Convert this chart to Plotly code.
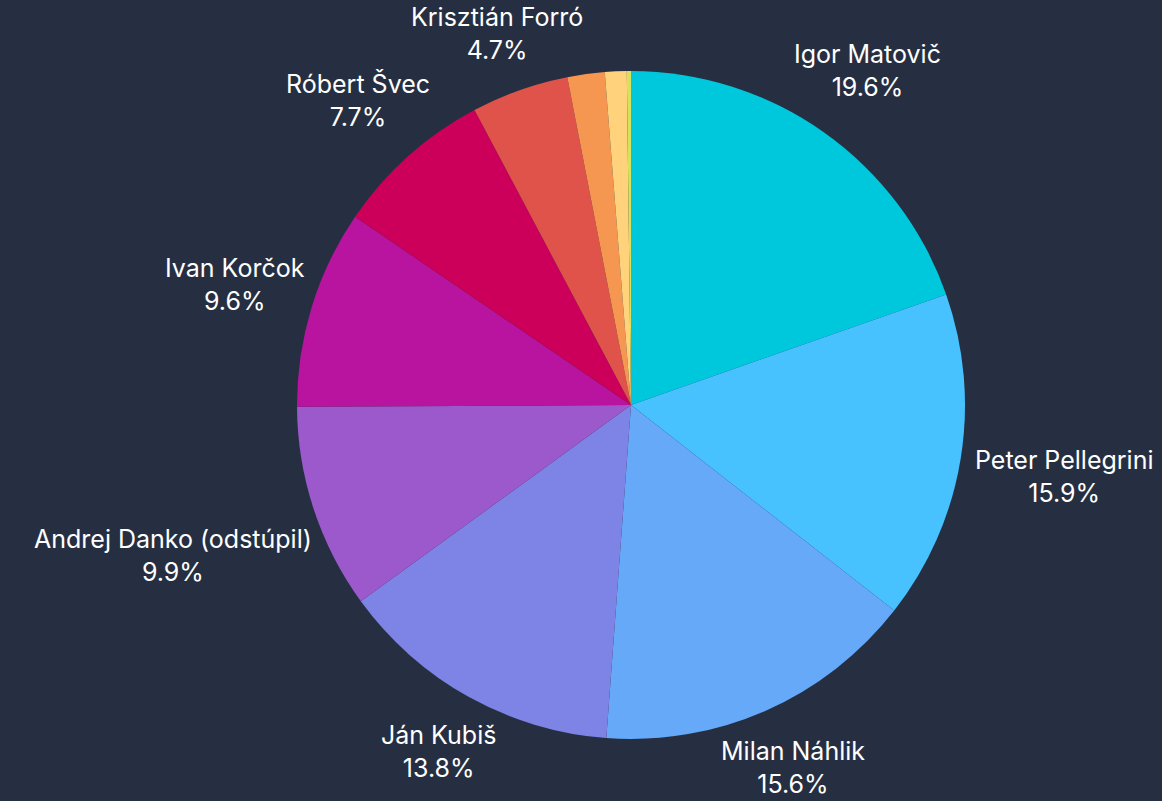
import math
import plotly.graph_objects as go

# candidate shares (%), clockwise from 12 o'clock
candidates = [
    "Igor Matovič", "Peter Pellegrini", "Milan Náhlik", "Ján Kubiš",
    "Andrej Danko (odstúpil)", "Ivan Korčok", "Róbert Švec", "Krisztián Forró",
    "Iný kandidát A", "Iný kandidát B", "Iný kandidát C",
]
shares = [19.6, 15.9, 15.6, 13.8, 9.9, 9.6, 7.7, 4.7, 1.8, 1.05, 0.2]
colors = [
    "#00C8DC", "#47C2FF", "#66A9F9", "#7E84E6", "#9B59CC", "#B8149F",
    "#CC005A", "#E0534A", "#F59651", "#FFD27B", "#D6E35A",
]

BG = "#262F42"
W, H = 1162, 801
CX, CY, R = 631, 405, 334      # pie centre / radius in pixels
FONT_SIZE = 25
CHAR_W = 12                    # rough glyph width for label box estimate
HALF_H = 33                    # half height of a two-line label
GAP = 7                        # distance between pie edge and label box
MIN_LABEL = 3                  # slices below this share get no label

fig = go.Figure(go.Pie(
    labels=candidates,
    values=shares,
    textinfo="none",
    sort=False,
    direction="clockwise",
    rotation=0,
    marker=dict(colors=colors, line=dict(width=0)),
    showlegend=False,
    hoverinfo="label+percent",
    domain=dict(x=[(CX - R) / W, (CX + R) / W], y=[(H - CY - R) / H, (H - CY + R) / H]),
))

# outside labels, pushed out along each slice's mid angle so the box clears the pie
total = sum(shares)
start = 0.0
for name, share in zip(candidates, shares):
    mid = start + share / 2
    start += share
    if share < MIN_LABEL:
        continue
    theta = 2 * math.pi * mid / total
    sn, cs = math.sin(theta), math.cos(theta)
    half_w = CHAR_W * len(name) / 2
    dist = R + GAP + half_w * abs(sn) + HALF_H * abs(cs)
    px = CX + dist * sn
    py = CY - dist * cs
    # keep the label inside the canvas
    py = min(max(py, HALF_H + 1), H - HALF_H - 1)
    px = min(max(px, half_w + 2), W - half_w - 2)
    fig.add_annotation(
        x=px / W, y=1 - py / H, xref="paper", yref="paper",
        text=f"{name}<br>{share:.1f}%",
        showarrow=False, xanchor="center", yanchor="middle", align="center",
        font=dict(color="white", size=FONT_SIZE),
    )

fig.update_layout(
    width=W,
    height=H,
    paper_bgcolor=BG,
    plot_bgcolor=BG,
    font=dict(family="Inter, Noto Sans, sans-serif", color="white", size=FONT_SIZE),
    margin=dict(l=0, r=0, t=0, b=0, autoexpand=False),
)

fig.write_html(
    "out.html",
    config={"displayModeBar": False},
    post_script="document.body.style.margin='0';document.body.style.background='%s';" % BG,
)
